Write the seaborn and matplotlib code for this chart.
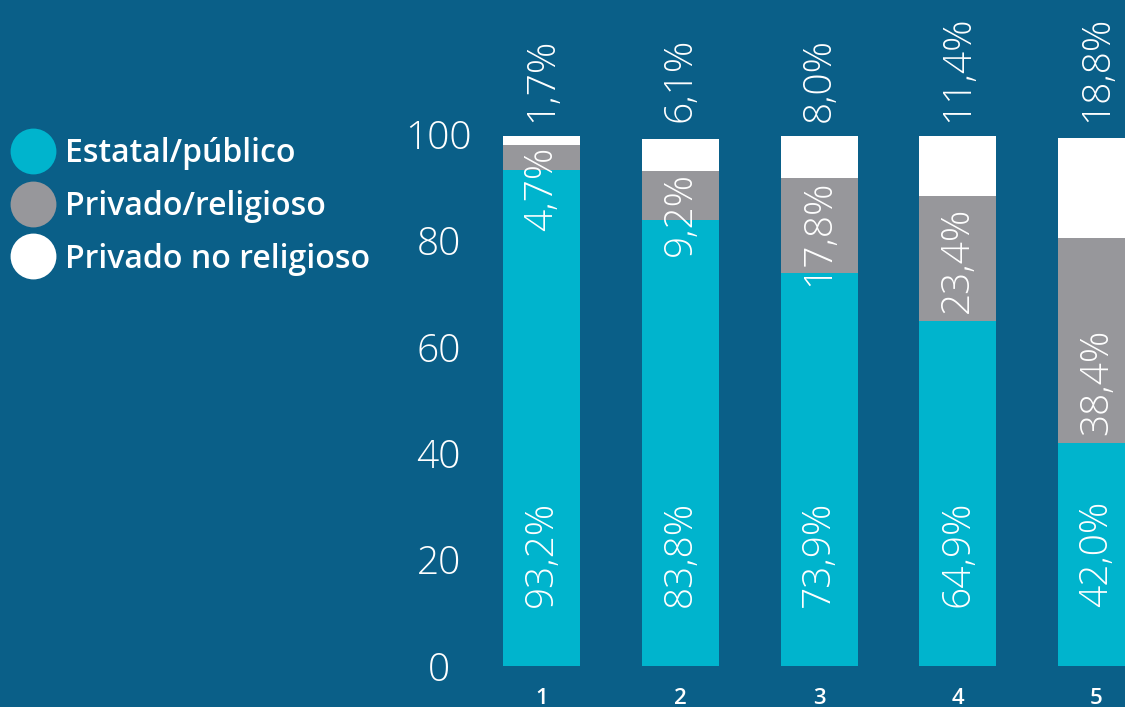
"""
Stacked bars: share of students by school type (Estatal / Privado religioso /
Privado no religioso) for five groups, drawn with seaborn on a dark blue page.
"""

import pandas as pd
import matplotlib.pyplot as plt
from matplotlib.lines import Line2D
import seaborn as sns

GROUPS        = ["1", "2", "3", "4", "5"]
ESTATAL       = [93.2, 83.8, 73.9, 64.9, 42.0]
PRIV_RELIG    = [4.7, 9.2, 17.8, 23.4, 38.4]
PRIV_NO_RELIG = [1.7, 6.1, 8.0, 11.4, 18.8]
SERIES        = ["Estatal/público", "Privado/religioso", "Privado no religioso"]
Y_TICKS       = [0, 20, 40, 60, 80, 100]

BG    = "#0a5f88"
CYAN  = "#00b4cd"
GREY  = "#97979b"
WHITE = "#ffffff"
FONT  = "Open Sans"


def fmt(v):
    return f"{v:.1f}%".replace(".", ",")


def main():
    sns.set_theme(style="white")
    plt.rcParams["font.family"] = [FONT, "DejaVu Sans"]

    df = pd.DataFrame({
        "grupo": GROUPS,
        "estatal": ESTATAL,
        "relig": PRIV_RELIG,
        "no_relig": PRIV_NO_RELIG,
    })
    df["lvl2"] = df["estatal"] + df["relig"]
    df["lvl3"] = df["lvl2"] + df["no_relig"]

    fig = plt.figure(figsize=(11.25, 7.07), dpi=100, facecolor=BG)
    ax = fig.add_axes([490 / 1125, 41 / 707, 1 - 490 / 1125, 666 / 707])
    ax.set_facecolor("none")

    # stacked by overdrawing cumulative totals
    for col, color in [("lvl3", WHITE), ("lvl2", GREY), ("estatal", CYAN)]:
        sns.barplot(data=df, x="grupo", y=col, order=GROUPS, color=color,
                    width=0.555, saturation=1, linewidth=0, ax=ax)

    ax.set_xlim(-0.371, 4.205)
    ax.set_ylim(0, 125.2)
    ax.set_xlabel("")
    ax.set_ylabel("")
    sns.despine(ax=ax, left=True, bottom=True)

    ax.set_yticks(Y_TICKS)
    ax.set_yticklabels([str(t) for t in Y_TICKS], fontsize=28,
                       fontweight="light", color="white", ha="center")
    ax.tick_params(axis="y", length=0, pad=37)
    ax.tick_params(axis="x", length=0, pad=16, labelsize=16, labelcolor="white")
    for lab in ax.get_xticklabels():
        lab.set_fontweight("semibold")

    # value labels
    txt = dict(rotation=90, rotation_mode="anchor", va="center",
               color="white", fontsize=28, fontweight="light")
    for i in range(len(GROUPS)):
        e, r, n = ESTATAL[i], PRIV_RELIG[i], PRIV_NO_RELIG[i]
        ax.text(i, 11, fmt(e), ha="left", **txt)
        if r >= 20:
            ax.text(i, e + 1.5, fmt(r), ha="left", **txt)
        else:
            ax.text(i, e + r - 0.2, fmt(r), ha="right", **txt)
        ax.text(i, 102.2, fmt(n), ha="left", clip_on=False, **txt)

    # legend
    handles = [Line2D([], [], linestyle="none", marker="o", markersize=33,
                      markerfacecolor=c, markeredgewidth=0)
               for c in (CYAN, GREY, WHITE)]
    leg = fig.legend(handles, SERIES, loc="upper left",
                     bbox_to_anchor=(11 / 1125, 1 - 137 / 707),
                     frameon=False, fontsize=23, handlelength=1.38,
                     handletextpad=0.3, labelspacing=0.62, borderpad=0,
                     borderaxespad=0)
    for t in leg.get_texts():
        t.set_color("white")
        t.set_fontweight("semibold")

    fig.savefig("out.png", dpi=100, facecolor=BG)


if __name__ == "__main__":
    main()
